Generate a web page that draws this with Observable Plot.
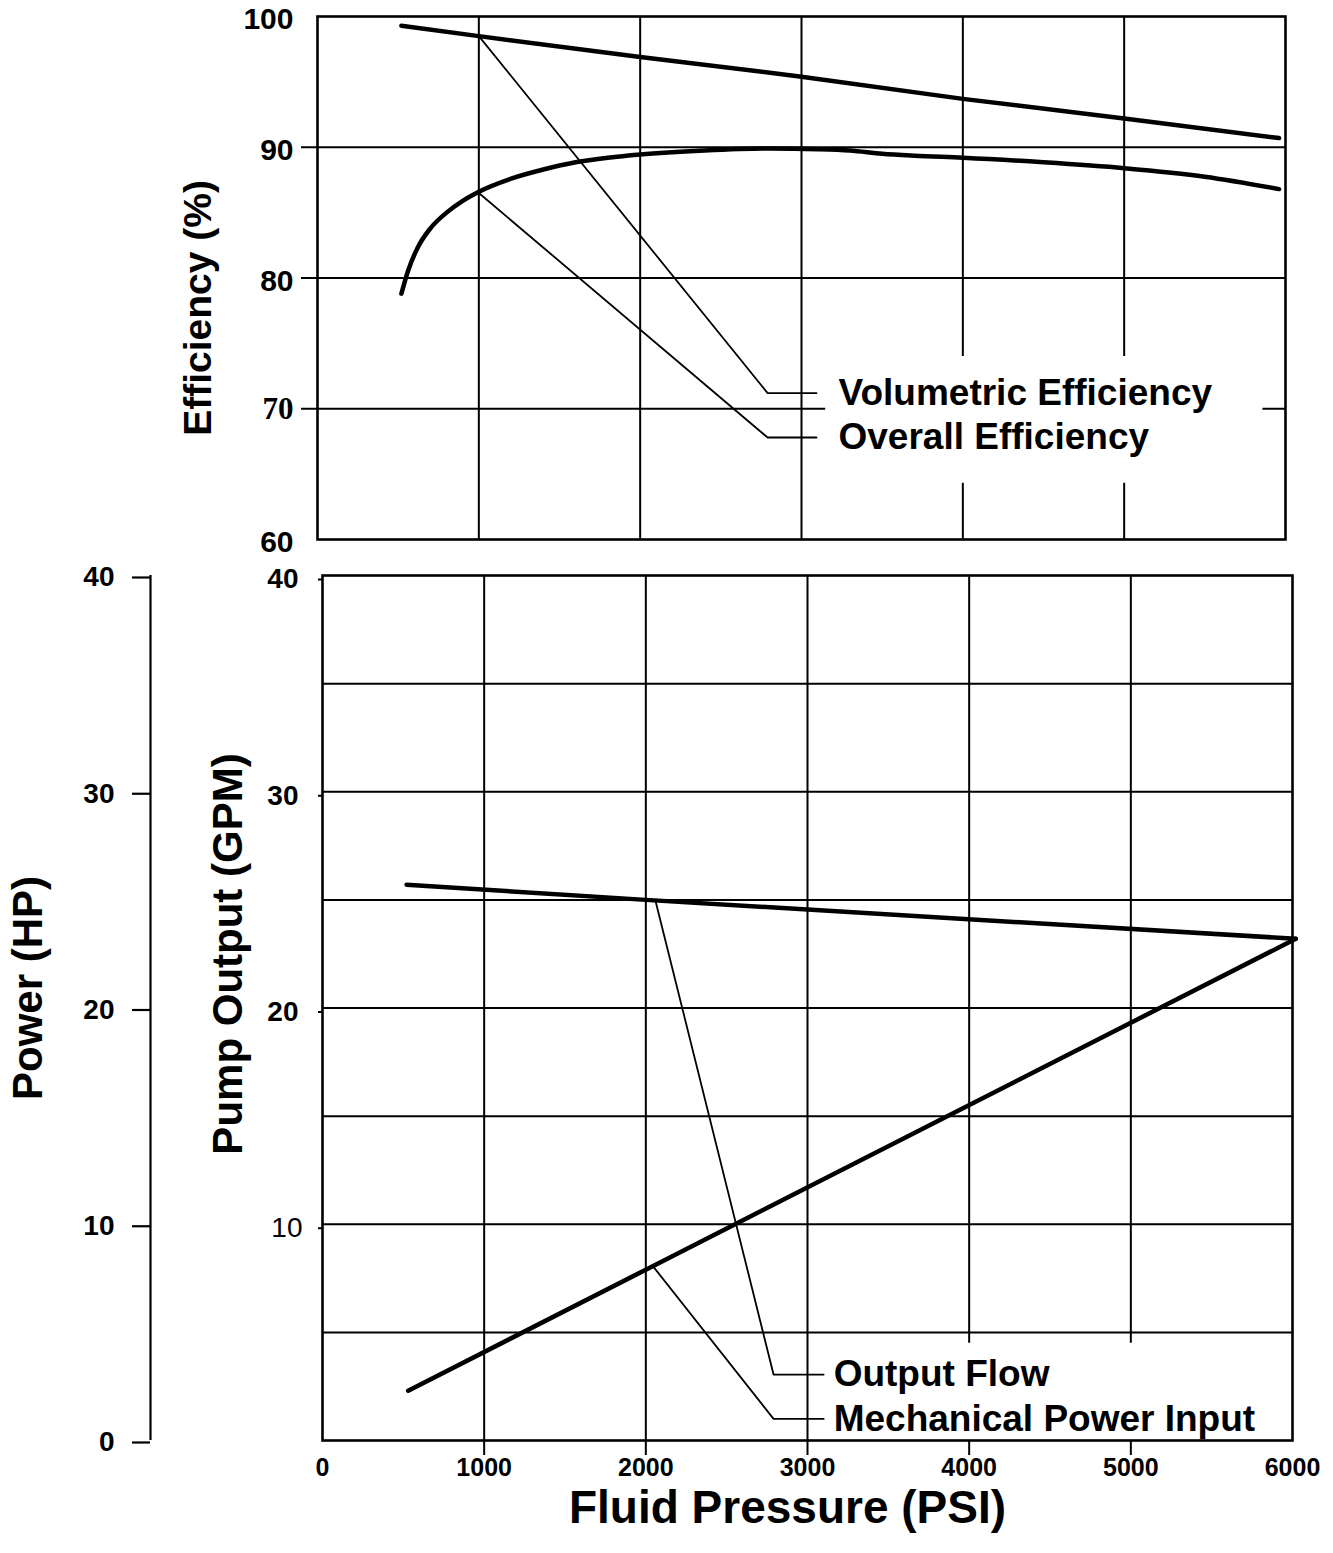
<!DOCTYPE html>
<html><head><meta charset="utf-8">
<script src="https://cdn.jsdelivr.net/npm/d3@7"></script>
<script src="https://cdn.jsdelivr.net/npm/@observablehq/plot@0.6"></script>
<style>
html,body{margin:0;padding:0;background:#fff;}
#wrap{position:relative;width:1333px;height:1553px;overflow:hidden;background:#fff;}
#top,#bottom{position:absolute;left:0;}
#top{top:0;}
#bottom{top:560px;}
</style></head><body>
<div id="wrap"><div id="top"></div><div id="bottom"></div></div>
<script>
// ---------- data ----------
const pressureTicks = [0, 1000, 2000, 3000, 4000, 5000, 6000];
const gridPressure = [1000, 2000, 3000, 4000, 5000];
const effTicks = [100, 90, 80, 60];
const effSerifTicks = [70];
const effGrid = [90, 80, 70];
const gpmBoldTicks = [20, 30, 40];
const gpmPlainTicks = [10];
const gpmGrid = [5, 10, 15, 20, 25, 30, 35];
const powerTicks = [0, 10, 20, 30, 40];

// Volumetric efficiency (%)
const volPressure = [520, 1000, 2000, 3000, 4000, 5000, 5960];
const volEff      = [99.3, 98.5, 96.9, 95.4, 93.7, 92.2, 90.7];
// Overall efficiency (%)
const ovPressure = [520, 560, 620, 700, 800, 900, 1000, 1200, 1400, 1600, 1800, 2000, 2400, 2800, 3100, 3300, 3500, 3700, 4000, 4500, 5000, 5500, 5960];
const ovEff      = [78.8, 80.5, 82.3, 83.8, 85.0, 85.9, 86.6, 87.6, 88.3, 88.85, 89.2, 89.45, 89.75, 89.9, 89.85, 89.75, 89.5, 89.35, 89.2, 88.85, 88.4, 87.75, 86.8];
// Output flow (GPM)
const flowPressure = [520, 2000, 6020];
const flowGpm      = [25.7, 25.0, 23.2];
// Mechanical power input (HP)
const powerPressure = [530, 2000, 6020];
const powerHp       = [2.3, 7.9, 23.2];

// legend call-outs: label, start on curve, elbow, end
const topLabels = ["Volumetric Efficiency", "Overall Efficiency"];
const topFrom  = [[1000, 98.5], [1000, 86.5]];
const topElbow = [[2790, 71.2], [2790, 67.8]];
const topTo    = [[3093, 71.2], [3093, 67.8]];
const topGap = {x1: 3150, x2: 5860, y1: 64.3, y2: 74.0};

const botLabels = ["Output Flow", "Mechanical Power Input"];
const botFrom  = [[2060, 24.95], [2045, 8.05]];
const botElbow = [[2790, 3.05], [2790, 1.0]];
const botTo    = [[3100, 3.05], [3100, 1.0]];
const botGap = {x1: 3150, x2: 6100, y1: 0, y2: 4.5};

// ---------- helpers ----------
const FONT = '"Liberation Sans", Arial, Helvetica, sans-serif';
const SERIF = '"Liberation Serif", "Times New Roman", serif';
const zip = (xs, ys) => xs.map((x, i) => ({p: x, v: ys[i]}));
function leaders(labels, from, elbow, to) {
  const rows = [];
  labels.forEach((l, i) => {
    [from[i], elbow[i], to[i]].forEach(([p, v]) => rows.push({label: l, p, v}));
  });
  return rows;
}
function vSegs(xs, lo, hi, gap) {
  const out = [];
  xs.forEach(x => {
    if (x > gap.x1 && x < gap.x2) {
      if (gap.y1 > lo) out.push({x, y1: lo, y2: gap.y1});
      if (gap.y2 < hi) out.push({x, y1: gap.y2, y2: hi});
    } else out.push({x, y1: lo, y2: hi});
  });
  return out;
}
function hSegs(ys, lo, hi, gap) {
  const out = [];
  ys.forEach(y => {
    if (y > gap.y1 && y < gap.y2) {
      if (gap.x1 > lo) out.push({y, x1: lo, x2: gap.x1});
      if (gap.x2 < hi) out.push({y, x1: gap.x2, x2: hi});
    } else out.push({y, x1: lo, x2: hi});
  });
  return out;
}

// ---------- top panel ----------
const topChart = Plot.plot({
  width: 1333, height: 560,
  marginLeft: 317, marginRight: 48, marginTop: 16, marginBottom: 21,
  x: {domain: [0, 6000], label: null, axis: null},
  y: {domain: [60, 100], label: null},
  style: {fontFamily: FONT, background: "white", overflow: "visible", color: "black"},
  marks: [
    Plot.ruleY(hSegs(effGrid, 0, 6000, topGap), {y: "y", x1: "x1", x2: "x2", strokeWidth: 2}),
    Plot.ruleX(vSegs(gridPressure, 60, 100, topGap), {x: "x", y1: "y1", y2: "y2", strokeWidth: 2}),
    Plot.frame({strokeWidth: 2.6}),
    Plot.axisY(effGrid, {tickSize: 16, fill: "none", strokeWidth: 2, label: null}),
    Plot.axisY(effTicks, {tickSize: 0, tickPadding: 24, fontSize: 30, fontWeight: "bold", label: null, dy: 3}),
    Plot.text(effSerifTicks, {y: d => d, text: d => String(d), frameAnchor: "left", textAnchor: "end", lineAnchor: "middle",
      dx: -24, fontSize: 31, fontWeight: "bold", fontFamily: SERIF}),
    Plot.line(zip(volPressure, volEff), {x: "p", y: "v", strokeWidth: 4.5}),
    Plot.line(zip(ovPressure, ovEff), {x: "p", y: "v", strokeWidth: 4.5, curve: "monotone-x"}),
    Plot.line(leaders(topLabels, topFrom, topElbow, topTo), {x: "p", y: "v", z: "label", strokeWidth: 1.8}),
    Plot.text(topLabels.map((l, i) => ({label: l, p: topTo[i][0], v: topTo[i][1]})),
      {x: "p", y: "v", text: "label", textAnchor: "start", lineAnchor: "middle", dx: 22, fontSize: 37, fontWeight: "bold"}),
    Plot.text(["Efficiency (%)"], {frameAnchor: "left", text: d => d, rotate: -90, textAnchor: "middle", lineAnchor: "middle",
      dx: -119, dy: 30, fontSize: 39, fontWeight: "bold"})
  ]
});
document.getElementById("top").appendChild(topChart);

// ---------- bottom panel ----------
const botChart = Plot.plot({
  width: 1333, height: 993,
  marginLeft: 322, marginRight: 41, marginTop: 15, marginBottom: 113,
  x: {domain: [0, 6000], label: null},
  y: {domain: [0, 40], label: null},
  style: {fontFamily: FONT, background: "white", overflow: "visible", color: "black"},
  marks: [
    Plot.ruleY(hSegs(gpmGrid, 0, 6000, botGap), {y: "y", x1: "x1", x2: "x2", strokeWidth: 2}),
    Plot.ruleX(vSegs(gridPressure, 0, 40, botGap), {x: "x", y1: "y1", y2: "y2", strokeWidth: 2}),
    Plot.frame({strokeWidth: 2.6}),
    Plot.axisX(gridPressure, {tickSize: 15, fill: "none", strokeWidth: 2, label: null}),
    Plot.axisX(pressureTicks, {tickSize: 0, tickPadding: 18, fontSize: 25, fontWeight: "bold", label: null, tickFormat: d3.format("d")}),
    Plot.axisY(gpmBoldTicks, {tickSize: 4, tickPadding: 20, fontSize: 28, fontWeight: "bold", strokeWidth: 2, label: null, dy: 4}),
    Plot.axisY(gpmPlainTicks, {tickSize: 4, tickPadding: 16, fontSize: 28, fontWeight: "normal", strokeWidth: 2, label: null, dy: 4}),
    // power (HP) axis on the far left
    Plot.ruleX([0], {x: d => d, y1: 0, y2: 40, dx: -172, strokeWidth: 2.2}),
    Plot.axisY(powerTicks, {dx: -172, tickSize: 18, tickPadding: 18, fontSize: 28, fontWeight: "bold", strokeWidth: 2.2, label: null, dy: 2}),
    Plot.line(zip(flowPressure, flowGpm), {x: "p", y: "v", strokeWidth: 4.5}),
    Plot.line(zip(powerPressure, powerHp), {x: "p", y: "v", strokeWidth: 4.5}),
    Plot.line(leaders(botLabels, botFrom, botElbow, botTo), {x: "p", y: "v", z: "label", strokeWidth: 1.8}),
    Plot.text(botLabels.map((l, i) => ({label: l, p: botTo[i][0], v: botTo[i][1]})),
      {x: "p", y: "v", text: "label", textAnchor: "start", lineAnchor: "middle", dx: 10, fontSize: 37, fontWeight: "bold"}),
    Plot.text(["Pump Output (GPM)"], {frameAnchor: "left", text: d => d, rotate: -90, textAnchor: "middle", lineAnchor: "middle",
      dx: -94, dy: -54, fontSize: 42, fontWeight: "bold"}),
    Plot.text(["Power (HP)"], {frameAnchor: "left", text: d => d, rotate: -90, textAnchor: "middle", lineAnchor: "middle",
      dx: -294, dy: -20, fontSize: 42, fontWeight: "bold"}),
    Plot.text(["Fluid Pressure (PSI)"], {frameAnchor: "bottom", text: d => d, textAnchor: "middle", lineAnchor: "middle",
      dx: -20, dy: 68, fontSize: 46, fontWeight: "bold"})
  ]
});
document.getElementById("bottom").appendChild(botChart);
</script>
</body></html>
